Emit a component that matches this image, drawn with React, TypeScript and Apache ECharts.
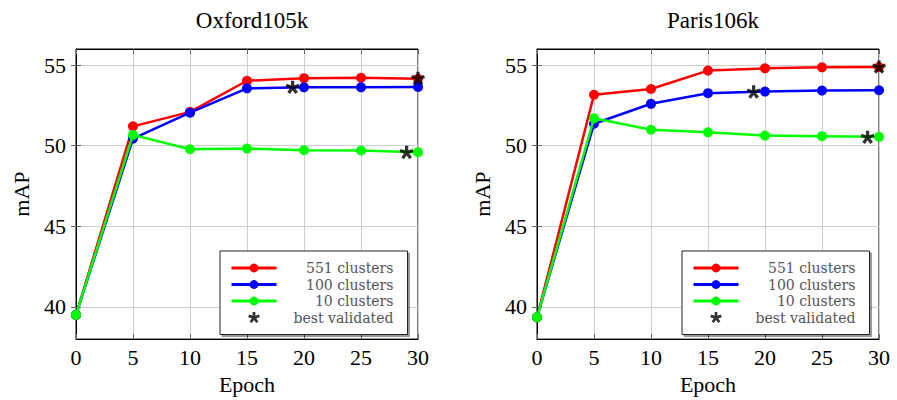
import React, { useEffect, useRef } from "react";
import * as echarts from "echarts";

const epochs = [0, 5, 10, 15, 20, 25, 30];
const oxford551 = [39.5, 51.2, 52.1, 54.03, 54.19, 54.21, 54.15];
const oxford100 = [39.5, 50.44, 52.05, 53.56, 53.62, 53.62, 53.64];
const oxford10 = [39.5, 50.67, 49.78, 49.82, 49.72, 49.7, 49.6];
const oxfordBest = [[19, 53.62], [30, 54.17], [29, 49.58]];

const paris551 = [39.35, 53.16, 53.52, 54.66, 54.8, 54.86, 54.88];
const paris100 = [39.35, 51.36, 52.6, 53.26, 53.36, 53.42, 53.44];
const paris10 = [39.35, 51.7, 50.99, 50.83, 50.63, 50.59, 50.55];
const parisBest = [[19, 53.33], [30, 54.88], [29, 50.52]];

const titles = ["Oxford105k", "Paris106k"];
const yTicks = [40, 45, 50, 55];
const seriesNames = ["551 clusters", "100 clusters", "10 clusters", "best validated"];
const colors = ["#ff0000", "#0000ff", "#00ff00"];

function asteriskPath(): string {
  const L = 1;
  const w = 0.24;
  let d = "";
  for (let i = 0; i < 5; i++) {
    const a = (i * 72 * Math.PI) / 180;
    const dx = Math.sin(a), dy = -Math.cos(a);
    const px = Math.cos(a), py = Math.sin(a);
    const pts = [
      [px * w, py * w],
      [px * w + dx * L, py * w + dy * L],
      [-px * w + dx * L, -py * w + dy * L],
      [-px * w, -py * w],
    ];
    d += "M" + pts.map((p) => `${(p[0] + 1.3).toFixed(4)} ${(p[1] + 1.3).toFixed(4)}`).join(" L") + " Z ";
  }
  return "path://" + d;
}

export default function App() {
  const ref = useRef<HTMLDivElement>(null);
  useEffect(() => {
    document.body.style.margin = "0";
    const chart = echarts.init(ref.current!, null, { renderer: "svg" });
    const star = asteriskPath();
    const grids = [
      { left: 76, top: 49, width: 342, height: 296 },
      { left: 537, top: 49, width: 342, height: 296 },
    ];
    const serif = "Liberation Serif";
    const xAxes: any[] = [];
    const yAxes: any[] = [];
    grids.forEach((_, gi) => {
      xAxes.push({
        type: "value", gridIndex: gi, min: 0, max: 30, interval: 5, position: "bottom",
        name: "Epoch", nameLocation: "middle", nameGap: 31,
        nameTextStyle: { fontFamily: serif, fontSize: 22, color: "#000" },
        axisLine: { show: true, lineStyle: { color: "#000", width: 1 } },
        axisTick: { show: true, inside: true, length: 5, lineStyle: { color: "#666" } },
        axisLabel: { fontFamily: serif, fontSize: 22, color: "#000", margin: 7 },
        splitLine: { show: true, lineStyle: { color: "#cfcfcf", width: 1 } },
      });
      xAxes.push({
        type: "value", gridIndex: gi, min: 0, max: 30, interval: 5, position: "top",
        axisLine: { show: true, lineStyle: { color: "#000", width: 1 } },
        axisTick: { show: true, inside: true, length: 5, lineStyle: { color: "#666" } },
        axisLabel: { show: false }, splitLine: { show: false },
      });
      yAxes.push({
        type: "value", gridIndex: gi, min: 38, max: 56, position: "left",
        name: "mAP", nameLocation: "middle", nameGap: 44, nameRotate: 90,
        nameTextStyle: { fontFamily: serif, fontSize: 22, color: "#000" },
        axisLine: { show: true, lineStyle: { color: "#000", width: 1 } },
        axisTick: { show: true, inside: true, length: 5, lineStyle: { color: "#666" }, customValues: yTicks },
        axisLabel: { fontFamily: serif, fontSize: 22, color: "#000", margin: 10, customValues: yTicks },
        splitLine: { show: true, lineStyle: { color: "#cfcfcf", width: 1 } },
      });
      yAxes.push({
        type: "value", gridIndex: gi, min: 38, max: 56, position: "right",
        axisLine: { show: true, lineStyle: { color: "#000", width: 1 } },
        axisTick: { show: true, inside: true, length: 5, lineStyle: { color: "#666" }, customValues: yTicks },
        axisLabel: { show: false }, splitLine: { show: false },
      });
    });

    const datasets = [
      [oxford551, oxford100, oxford10, oxfordBest],
      [paris551, paris100, paris10, parisBest],
    ];
    const series: any[] = [];
    datasets.forEach((ds, gi) => {
      for (let k = 0; k < 3; k++) {
        series.push({
          type: "line", name: seriesNames[k], xAxisIndex: gi * 2, yAxisIndex: gi * 2,
          data: epochs.map((e, i) => [e, (ds[k] as number[])[i]]),
          symbol: "circle", symbolSize: 10, showSymbol: true,
          lineStyle: { color: colors[k], width: 2.5 },
          itemStyle: { color: colors[k] },
          z: 2 + k,
        });
      }
      series.push({
        type: "scatter", name: seriesNames[3], xAxisIndex: gi * 2, yAxisIndex: gi * 2,
        data: ds[3], symbol: star, symbolSize: 14, symbolKeepAspect: true,
        itemStyle: { color: "#000" }, z: 10,
      });
    });

    const legendFont = "DejaVu Serif";
    const legendBase = {
      orient: "vertical", top: 251, itemWidth: 45, itemHeight: 11, itemGap: 2.5,
      padding: [10, 14, 10, 10], backgroundColor: "#fff", borderColor: "#222", borderWidth: 1,
      shadowColor: "rgba(0,0,0,0.4)", shadowOffsetX: 2, shadowOffsetY: 2, shadowBlur: 0,
      data: seriesNames, selectedMode: false,
      lineStyle: { width: 3 },
      formatter: (n: string) => `{t|${n}}`,
      textStyle: {
        fontFamily: legendFont, fontSize: 14, color: "#555",
        rich: { t: { width: 112, align: "right", fontFamily: legendFont, fontSize: 14, color: "#555" } },
      },
    };

    chart.setOption({
      animation: false,
      backgroundColor: "#fff",
      title: titles.map((t, i) => ({
        text: t, left: grids[i].left + grids[i].width / 2, top: 4, textAlign: "center",
        textStyle: { fontFamily: serif, fontSize: 23, fontWeight: "normal", color: "#000" },
      })),
      grid: grids.map((g) => ({ ...g, show: true, borderColor: "#000", borderWidth: 1, backgroundColor: "transparent" })),
      xAxis: xAxes,
      yAxis: yAxes,
      legend: [
        { ...legendBase, left: 220 },
        { ...legendBase, left: 682 },
      ],
      series,
    });
    return () => chart.dispose();
  }, []);
  return <div ref={ref} style={{ width: 897, height: 400 }} />;
}
